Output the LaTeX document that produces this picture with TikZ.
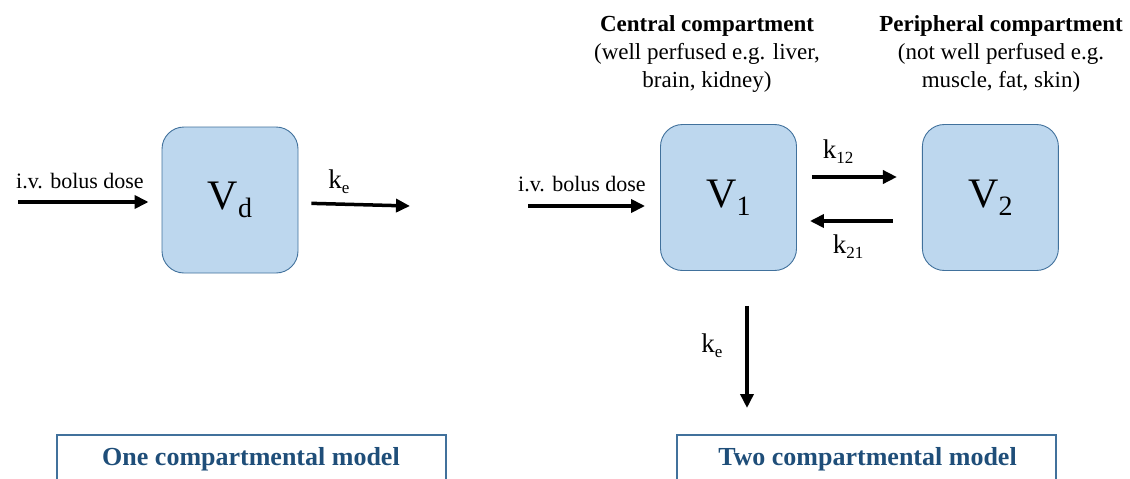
\documentclass[tikz,border=0pt]{standalone}
\usepackage{fontspec}
\setmainfont{Liberation Serif}
\usepackage{xcolor}
\usetikzlibrary{arrows.meta, positioning, calc}

\definecolor{boxfill}{RGB}{189,215,238}
\definecolor{boxline}{RGB}{65,113,156}
\definecolor{framecol}{RGB}{65,113,156}
\definecolor{titlecol}{RGB}{31,78,121}

\newcommand{\vol}[1]{V\raisebox{-8pt}{\fontsize{28}{28}\selectfont #1}}
\newcommand{\rate}[1]{k\raisebox{-5pt}{\fontsize{17}{17}\selectfont #1}}

\begin{document}
\begin{tikzpicture}[x=1pt, y=-1pt, node distance=125pt]
    \tikzstyle{comp} = [rectangle, rounded corners=22pt, minimum width=136pt, minimum height=146pt, inner sep=0pt, draw=boxline, line width=0.9pt, fill=boxfill, font=\fontsize{42}{42}\selectfont]
    \tikzstyle{lbl} = [inner sep=0pt, anchor=base, font=\fontsize{22}{26}\selectfont]
    \tikzstyle{klbl} = [inner sep=0pt, anchor=base, font=\fontsize{27}{27}\selectfont]
    \tikzstyle{head} = [inner sep=0pt, anchor=north, align=center, font=\fontsize{23}{28}\selectfont]
    \tikzstyle{model} = [inner sep=0pt, anchor=base, text=titlecol, font=\fontsize{26}{26}\selectfont\bfseries]
    \tikzstyle{arrow} = [line width=3.5pt, -{Triangle[length=14pt, width=13pt]}]

    \useasboundingbox (0,0) rectangle (1130,479);

    % One compartment
    \node (vd) [comp] at (230,200) {\vol{d}};
    \coordinate (in1) at (18,202);
    \coordinate (out1) at (410,206);
    \node (dose1) [lbl] at (80,188) {i.v. bolus dose};
    \node (ke1) [klbl] at (339,188) {\rate{e}};

    % Two compartments
    \node (v1) [comp] at (728.5,197.5) {\vol{1}};
    \node (v2) [comp, right=of v1] {\vol{2}};
    \coordinate (in2) at (528,206);
    \coordinate (out2) at (747,408);
    \node (dose2) [lbl] at (582,191) {i.v. bolus dose};
    \node (k12) [klbl] at (838,158) {\rate{12}};
    \node (k21) [klbl] at (848,253) {\rate{21}};
    \node (ke2) [klbl] at (712,352) {\rate{e}};

    % Headings
    \node (central) [head] at (707,15) {\textbf{Central compartment}\\(well perfused e.g. liver,\\brain, kidney)};
    \node (periph) [head] at (1001,15) {\textbf{Peripheral compartment}\\(not well perfused e.g.\\muscle, fat, skin)};

    % Connections
    \draw [arrow, shorten >=13pt] (in1) -- (in1 -| vd.west);
    \draw [arrow, shorten <=13pt] ($(vd.east)+(0,3)$) -- (out1);
    \draw [arrow, shorten >=15pt] (in2) -- (in2 -| v1.west);
    \draw [arrow, shorten <=15pt, shorten >=25pt] ([yshift=20.5pt]v1.east) -- ([yshift=20.5pt]v2.west);
    \draw [arrow, shorten <=29pt, shorten >=13pt] ([yshift=-23.5pt]v2.west) -- ([yshift=-23.5pt]v1.east);
    \draw [arrow, shorten <=35pt] (v1.south -| out2) -- (out2);

    % Model labels
    \draw [framecol, line width=1.2pt] (57,482) |- (446,435) -- (446,482);
    \draw [framecol, line width=1.2pt] (677,482) |- (1056,435) -- (1056,482);
    \node (one) [model] at (251,465) {One compartmental model};
    \node (two) [model] at (867.5,465) {Two compartmental model};
\end{tikzpicture}
\end{document}
